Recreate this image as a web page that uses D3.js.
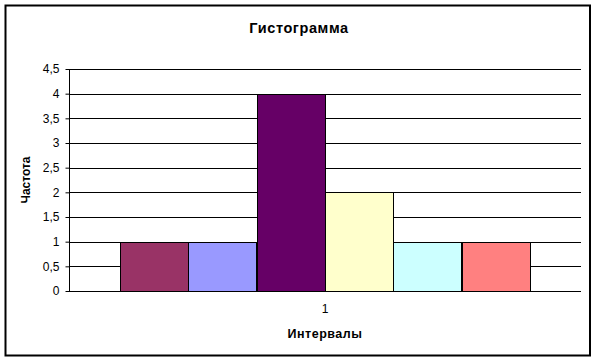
<!DOCTYPE html>
<html>
<head>
<meta charset="utf-8">
<script src="https://cdn.jsdelivr.net/npm/d3@7"></script>
<style>
  body { margin: 0; background: #fff; }
  text { font-family: Arial, "Liberation Sans", sans-serif; fill: #000; }
</style>
</head>
<body>
<svg id="chart" width="597" height="362"></svg>
<script>
// data
const categories = ["1"];
const seriesNames = ["s1", "s2", "s3", "s4", "s5", "s6"];
const seriesValues = [1, 1, 4, 2, 1, 1];
const seriesColors = ["#993366", "#9999FF", "#660066", "#FFFFCC", "#CCFFFF", "#FF8080"];
const yTicks = [0, 0.5, 1, 1.5, 2, 2.5, 3, 3.5, 4, 4.5];

const svg = d3.select("#chart");
const margin = { left: 69, right: 16, top: 69, bottom: 71 };
const width = 597, height = 362;

// outer frame
svg.append("rect")
  .attr("x", 5.5).attr("y", 5.5)
  .attr("width", 584.5).attr("height", 350)
  .attr("fill", "#fff")
  .attr("stroke", "#000")
  .attr("stroke-width", 2);

const x = d3.scaleBand()
  .domain(categories)
  .range([margin.left, width - margin.right])
  .paddingInner(0)
  .paddingOuter(0);

// gap width 150%
const inner = d3.scaleBand()
  .domain(seriesNames)
  .range([0, x.bandwidth()])
  .paddingOuter(0.75)
  .paddingInner(0);

const y = d3.scaleLinear()
  .domain([0, 4.5])
  .range([height - margin.bottom, margin.top]);

const fmt = d => String(d).replace(".", ",");

// gridlines
svg.append("g")
  .selectAll("line")
  .data(yTicks.filter(d => d > 0))
  .join("line")
  .attr("x1", margin.left)
  .attr("x2", width - margin.right)
  .attr("y1", d => Math.round(y(d)) + 0.5)
  .attr("y2", d => Math.round(y(d)) + 0.5)
  .attr("stroke", "#000");

// bars
svg.append("g")
  .selectAll("rect")
  .data(seriesValues)
  .join("rect")
  .attr("x", (d, i) => Math.round(x(categories[0]) + inner(seriesNames[i])) + 0.5)
  .attr("width", () => Math.round(inner.bandwidth()))
  .attr("y", d => Math.round(y(d)) + 0.5)
  .attr("height", d => Math.round(y(0)) - Math.round(y(d)))
  .attr("fill", (d, i) => seriesColors[i])
  .attr("stroke", "#000");

// y axis
const yAxis = svg.append("g")
  .attr("transform", `translate(${margin.left + 0.5},0.5)`)
  .call(d3.axisLeft(y).tickValues(yTicks).tickFormat(fmt).tickSize(4).tickPadding(6)
    .offset(0));
yAxis.select(".domain").attr("stroke", "#000").attr("d", `M0,${Math.round(y(4.5))}V${Math.round(y(0))}`);
yAxis.selectAll(".tick line").attr("stroke", "#000");
yAxis.selectAll(".tick text")
  .style("font-family", "Arial, 'Liberation Sans', sans-serif")
  .style("font-size", "12px")
  .attr("fill", "#000");

// x axis
const xAxis = svg.append("g")
  .attr("transform", `translate(0,${Math.round(y(0)) + 0.5})`)
  .call(d3.axisBottom(x).tickSize(0).tickPadding(13).offset(0));
xAxis.select(".domain").attr("stroke", "#000");
xAxis.selectAll(".tick text")
  .style("font-family", "Arial, 'Liberation Sans', sans-serif")
  .style("font-size", "12px")
  .attr("fill", "#000");

// titles
svg.append("text")
  .attr("x", 299).attr("y", 33)
  .attr("text-anchor", "middle")
  .style("font-size", "14.5px").style("font-weight", "bold")
  .style("letter-spacing", "0.6px")
  .text("Гистограмма");

svg.append("text")
  .attr("x", 325).attr("y", 338)
  .attr("text-anchor", "middle")
  .style("font-size", "12.5px").style("font-weight", "bold")
  .style("letter-spacing", "0.5px")
  .text("Интервалы");

svg.append("text")
  .attr("transform", "translate(29.5,180) rotate(-90)")
  .attr("text-anchor", "middle")
  .style("font-size", "12px").style("font-weight", "bold")
  .text("Частота");
</script>
</body>
</html>
